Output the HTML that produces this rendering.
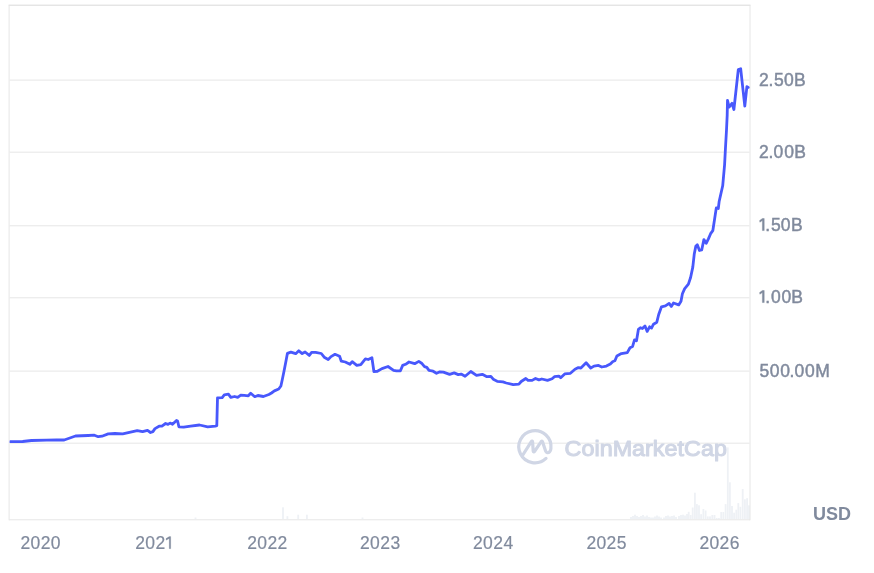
<!DOCTYPE html>
<html><head><meta charset="utf-8"><title>chart</title>
<style>
html,body{margin:0;padding:0;background:#fff;}
body{width:874px;height:573px;overflow:hidden;position:relative;font-family:"Liberation Sans",sans-serif;}
svg{position:absolute;left:0;top:0;display:block;will-change:transform;}
.lab text,.lab path{font-family:"Liberation Sans",sans-serif;font-size:17.5px;fill:#808a9d;stroke:#808a9d;stroke-width:0.45px;}
.yr text,.yr path{font-family:"Liberation Sans",sans-serif;font-size:17.5px;fill:#808a9d;stroke:#808a9d;stroke-width:0.2px;}
</style></head>
<body>
<svg width="874" height="573" viewBox="0 0 874 573">
<g stroke="#e6e6e6" stroke-width="1"><line x1="9.6" y1="80.10" x2="749.5" y2="80.10"/><line x1="9.6" y1="152.20" x2="749.5" y2="152.20"/><line x1="9.6" y1="225.80" x2="749.5" y2="225.80"/><line x1="9.6" y1="297.80" x2="749.5" y2="297.80"/><line x1="9.6" y1="371.10" x2="749.5" y2="371.10"/><line x1="9.6" y1="443.20" x2="749.5" y2="443.20"/></g>
<g fill="#eef1f5"><rect x="194.6" y="517.5" width="1.8" height="1.5"/><rect x="282.1" y="507.3" width="1.8" height="11.7"/><rect x="286.5" y="516.2" width="1.8" height="2.8"/><rect x="297.3" y="514.7" width="1.8" height="4.3"/><rect x="306.0" y="514.7" width="1.8" height="4.3"/><rect x="361.6" y="517.5" width="1.8" height="1.5"/><rect x="630.1" y="517.0" width="1.8" height="2.0"/><rect x="632.1" y="516.0" width="1.8" height="3.0"/><rect x="634.1" y="514.7" width="1.8" height="4.3"/><rect x="636.1" y="516.0" width="1.8" height="3.0"/><rect x="638.1" y="517.0" width="1.8" height="2.0"/><rect x="640.1" y="516.0" width="1.8" height="3.0"/><rect x="642.1" y="515.0" width="1.8" height="4.0"/><rect x="644.1" y="516.5" width="1.8" height="2.5"/><rect x="646.1" y="515.5" width="1.8" height="3.5"/><rect x="648.1" y="517.0" width="1.8" height="2.0"/><rect x="650.1" y="517.5" width="1.8" height="1.5"/><rect x="652.1" y="517.5" width="1.8" height="1.5"/><rect x="654.1" y="516.5" width="1.8" height="2.5"/><rect x="656.1" y="515.5" width="1.8" height="3.5"/><rect x="658.1" y="516.5" width="1.8" height="2.5"/><rect x="660.1" y="517.5" width="1.8" height="1.5"/><rect x="663.1" y="517.5" width="1.8" height="1.5"/><rect x="665.1" y="516.0" width="1.8" height="3.0"/><rect x="667.1" y="515.5" width="1.8" height="3.5"/><rect x="669.1" y="516.5" width="1.8" height="2.5"/><rect x="671.1" y="516.0" width="1.8" height="3.0"/><rect x="673.1" y="515.5" width="1.8" height="3.5"/><rect x="675.1" y="517.0" width="1.8" height="2.0"/><rect x="678.1" y="516.0" width="1.8" height="3.0"/><rect x="680.1" y="515.0" width="1.8" height="4.0"/><rect x="682.1" y="514.7" width="1.8" height="4.3"/><rect x="684.1" y="515.5" width="1.8" height="3.5"/><rect x="686.1" y="514.0" width="1.8" height="5.0"/><rect x="687.8" y="511.8" width="1.8" height="7.2"/><rect x="689.8" y="515.0" width="1.8" height="4.0"/><rect x="691.8" y="507.5" width="1.8" height="11.5"/><rect x="694.0" y="492.7" width="1.8" height="26.3"/><rect x="696.0" y="504.1" width="1.8" height="14.9"/><rect x="698.1" y="505.3" width="1.8" height="13.7"/><rect x="700.2" y="514.2" width="1.8" height="4.8"/><rect x="702.5" y="509.0" width="1.8" height="10.0"/><rect x="704.7" y="510.5" width="1.8" height="8.5"/><rect x="706.9" y="516.4" width="1.8" height="2.6"/><rect x="709.1" y="516.4" width="1.8" height="2.6"/><rect x="711.4" y="515.0" width="1.8" height="4.0"/><rect x="713.6" y="515.0" width="1.8" height="4.0"/><rect x="715.8" y="518.0" width="1.8" height="1.0"/><rect x="718.0" y="518.0" width="1.8" height="1.0"/><rect x="720.3" y="512.0" width="1.8" height="7.0"/><rect x="722.5" y="512.0" width="1.8" height="7.0"/><rect x="724.7" y="504.1" width="1.8" height="14.9"/><rect x="726.9" y="447.4" width="1.8" height="71.6"/><rect x="729.0" y="482.3" width="1.8" height="36.7"/><rect x="731.1" y="506.0" width="1.8" height="13.0"/><rect x="733.2" y="512.7" width="1.8" height="6.3"/><rect x="735.4" y="509.7" width="1.8" height="9.3"/><rect x="737.4" y="503.1" width="1.8" height="15.9"/><rect x="739.5" y="506.8" width="1.8" height="12.2"/><rect x="741.8" y="489.0" width="1.8" height="30.0"/><rect x="744.0" y="499.3" width="1.8" height="19.7"/><rect x="746.2" y="498.2" width="1.8" height="20.8"/><rect x="748.1" y="505.3" width="1.8" height="13.7"/></g>
<g fill="none" stroke-width="1">
<line x1="8.6" y1="5.2" x2="750.5" y2="5.2" stroke="#d9d9d9"/>
<line x1="9.1" y1="5.2" x2="9.1" y2="520.3" stroke="#e6e6e6"/>
<line x1="750.0" y1="5.2" x2="750.0" y2="520.3" stroke="#e6e6e6"/>
<line x1="9.1" y1="519.8" x2="750" y2="519.8" stroke="#e6e6e6"/>
</g>
<g id="wm" fill="none" stroke="#d0d6e5" stroke-width="3.2" stroke-linecap="round" stroke-linejoin="round">
<path d="M546.0,458.4 A16.1,16.1 0 1 1 550.9,448.6 C550.7,451.5 548.8,453.0 547.3,452.7 C546.3,452.5 545.9,451.9 545.6,451.0 L542.6,442.0 C542.2,440.8 541.5,440.8 541.0,441.8 L534.6,451.4 C534.0,452.3 533.3,452.2 533.2,451.2 L532.6,442.0 C532.5,440.9 531.9,440.7 531.3,441.6 L522.8,455.0"/>
</g>
<text x="564.6" y="455.6" font-family="Liberation Sans" font-size="22" fill="#d0d6e5" stroke="#d0d6e5" stroke-width="1.05" stroke-linejoin="round" textLength="162.3" lengthAdjust="spacingAndGlyphs">CoinMarketCap</text>
<defs><clipPath id="pc"><rect x="9.6" y="5" width="740.6" height="515"/></clipPath></defs>
<path clip-path="url(#pc)" d="M10.1,441.7 L22.7,441.5 L31.5,440.5 L46.6,440.2 L56.6,439.8 L64.2,440.0 L75.5,436.0 L88.1,435.5 L94.4,435.2 L98.2,436.7 L102.0,436.2 L108.2,433.9 L114.9,433.5 L122.7,433.8 L137.2,430.7 L142.6,431.7 L147.5,430.3 L150.5,432.5 L152.9,431.6 L155.0,428.6 L159.1,426.2 L161.9,426.1 L165.6,423.5 L168.0,424.4 L170.1,423.1 L172.5,424.3 L176.5,420.5 L177.6,421.0 L178.9,426.8 L183.7,427.1 L190.6,426.1 L199.5,425.0 L207.7,426.8 L215.3,426.1 L216.8,425.6 L217.5,397.8 L222.2,397.6 L224.3,394.9 L228.4,394.2 L230.8,397.4 L234.6,396.5 L237.7,397.4 L240.8,395.2 L244.2,395.4 L248.3,395.8 L250.7,393.2 L254.8,396.7 L257.9,395.5 L263.4,396.5 L268.9,394.5 L271.5,393.0 L274.4,390.9 L278.7,389.0 L280.9,386.0 L282.2,380.0 L284.0,371.2 L285.7,362.4 L287.4,353.4 L290.9,352.1 L295.7,353.7 L298.8,350.8 L302.2,353.6 L305.1,352.0 L309.3,355.4 L311.6,352.4 L315.6,352.4 L321.3,353.5 L324.2,357.2 L328.2,359.5 L331.0,356.6 L335.0,354.3 L339.6,356.2 L341.3,361.2 L345.3,362.0 L349.9,364.3 L352.2,361.7 L356.8,365.4 L360.8,364.6 L365.4,358.9 L368.2,359.5 L371.9,357.7 L373.9,371.5 L377.4,371.3 L382.0,368.6 L388.0,366.5 L393.6,370.4 L396.4,370.8 L400.4,370.8 L402.7,365.4 L405.6,364.3 L409.0,362.0 L414.7,363.7 L418.8,361.4 L421.6,363.2 L424.5,366.6 L426.8,367.4 L429.0,370.4 L433.1,371.2 L436.5,373.3 L439.9,371.8 L443.4,372.1 L449.6,374.4 L454.2,372.9 L458.2,374.6 L461.1,374.1 L465.1,376.3 L470.8,371.5 L476.5,375.4 L482.3,374.3 L486.9,376.7 L490.9,376.5 L493.7,379.6 L497.2,381.3 L502.9,381.9 L506.3,383.0 L513.2,384.7 L518.9,384.2 L521.2,381.5 L525.8,378.5 L528.1,380.4 L532.1,380.4 L535.5,378.5 L538.9,379.9 L541.8,379.0 L547.5,380.4 L552.1,378.8 L554.4,376.7 L558.9,376.2 L560.7,377.7 L564.7,373.9 L570.4,373.3 L575.0,369.3 L578.4,367.6 L580.9,368.0 L586.1,362.8 L590.7,368.0 L594.0,366.1 L598.5,365.4 L601.8,367.0 L606.4,366.1 L610.3,364.1 L612.9,361.5 L614.9,360.8 L616.9,356.0 L621.4,353.6 L627.3,352.6 L630.0,347.7 L632.6,346.4 L634.5,339.9 L636.5,340.8 L638.4,329.4 L640.4,327.7 L642.4,328.5 L645.0,325.9 L647.2,331.4 L649.6,326.8 L651.5,328.1 L653.5,324.2 L656.8,322.2 L658.7,314.5 L661.5,306.8 L665.4,305.9 L669.1,303.4 L671.3,306.4 L673.5,303.0 L678.7,304.9 L681.0,301.2 L682.4,293.8 L684.7,288.6 L688.4,284.1 L690.6,277.5 L692.8,267.1 L694.3,253.7 L695.8,246.3 L697.3,244.8 L699.5,250.5 L701.7,250.0 L703.9,239.6 L706.2,243.3 L708.4,238.9 L710.6,233.7 L712.8,230.7 L713.8,224.2 L716.3,207.9 L718.3,208.5 L719.2,201.2 L722.7,185.8 L724.6,164.6 L725.4,149.2 L726.5,130.0 L727.2,115.0 L727.5,100.3 L729.1,107.1 L732.0,103.3 L733.9,109.5 L738.3,69.6 L740.7,68.8 L744.8,106.2 L746.9,86.6 L748.2,87.4" fill="none" stroke="#4858fc" stroke-width="2.8" stroke-linejoin="round" stroke-linecap="round"/>
<g class="lab"><text x="758.92 768.51 773.90 784.12 794.06" y="85.55">2.50B</text><text x="758.92 768.51 773.62 784.22 794.36" y="157.55">2.00B</text><text x="765.31 771.00 780.82 791.06" y="230.55">.50B</text><text x="765.31 771.02 781.42 791.36" y="302.55">.00B</text><text x="759.40 769.82 780.22 789.61 794.57 805.12 815.36" y="376.6">500.00M</text><path d="M762.40,218.50 L764.20,218.50 L764.20,230.55 L762.40,230.55 L762.40,220.40 L759.90,222.20 L759.60,220.60Z"/><path d="M762.40,290.50 L764.20,290.50 L764.20,302.55 L762.40,302.55 L762.40,292.40 L759.90,294.20 L759.60,292.60Z"/></g>
<g class="yr"><text x="20.42 30.44 40.65 50.76" y="548.7">2020</text><text x="135.27 145.29 155.50" y="548.7">202</text><path d="M169.20,536.50 L170.75,536.50 L170.75,548.70 L169.20,548.70 L169.20,538.40 L166.25,540.20 L165.95,538.60Z"/><text x="247.26 257.28 267.49 277.60" y="548.7">2022</text><text x="360.08 370.10 380.31 390.42" y="548.7">2023</text><text x="473.08 483.10 493.31 503.42" y="548.7">2024</text><text x="586.38 596.40 606.61 616.72" y="548.7">2025</text><text x="699.38 709.40 719.61 729.72" y="548.7">2026</text></g>
<text x="813" y="520" font-family="Liberation Sans" font-weight="bold" font-size="18" fill="#808a9d">USD</text>
</svg>
</body></html>
